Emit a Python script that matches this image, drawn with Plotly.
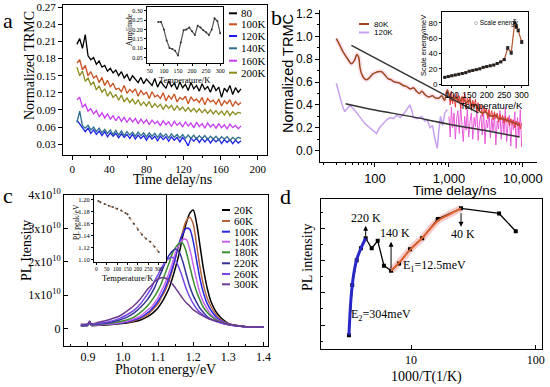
import math
import plotly.graph_objects as go

W, H = 550, 387
SERIF = "Liberation Serif, Times New Roman, serif"
SANS = "Liberation Sans, Arial, sans-serif"


def px(x):
    return x / W


def py(y):
    return 1 - y / H


# ---------------- panel a : TRMC decays ----------------
t_a = [5, 8, 11, 14, 17, 20, 23, 26, 29, 32, 35, 38, 41, 44, 47, 50, 53, 56, 59, 62,
       65, 68, 71, 74, 77, 80, 83, 86, 89, 92, 95, 98, 101, 104, 107, 110, 113, 116, 119, 122,
       125, 128, 131, 134, 137, 140, 143, 146, 149, 152, 155, 158, 161, 164, 167, 170, 173, 176, 179, 182]
a_80 = [0.205, 0.215, 0.198, 0.222, 0.185, 0.178, 0.182, 0.170, 0.176, 0.165,
        0.168, 0.158, 0.163, 0.155, 0.160, 0.150, 0.157, 0.146, 0.152, 0.141,
        0.150, 0.143, 0.138, 0.147, 0.136, 0.144, 0.139, 0.133, 0.145, 0.130,
        0.140, 0.134, 0.128, 0.141, 0.131, 0.137, 0.126, 0.139, 0.129, 0.135,
        0.124, 0.138, 0.127, 0.133, 0.123, 0.136, 0.126, 0.131, 0.121, 0.134,
        0.124, 0.130, 0.112, 0.128, 0.122, 0.133, 0.117, 0.129, 0.121, 0.127]
a_100 = [0.172, 0.178, 0.160, 0.168, 0.150, 0.157, 0.146, 0.150, 0.138, 0.147,
         0.133, 0.142, 0.130, 0.137, 0.126, 0.128, 0.122, 0.133, 0.119, 0.126,
         0.121, 0.127, 0.114, 0.124, 0.117, 0.121, 0.110, 0.122, 0.113, 0.116,
         0.110, 0.120, 0.106, 0.115, 0.109, 0.118, 0.104, 0.112, 0.108, 0.114,
         0.101, 0.113, 0.106, 0.109, 0.103, 0.112, 0.099, 0.110, 0.104, 0.107,
         0.100, 0.109, 0.097, 0.106, 0.101, 0.108, 0.096, 0.105, 0.099, 0.103]
a_120 = [0.072, 0.065, 0.060, 0.052, 0.058, 0.049, 0.055, 0.047, 0.053, 0.045,
         0.052, 0.043, 0.050, 0.044, 0.049, 0.041, 0.048, 0.042, 0.047, 0.040,
         0.047, 0.039, 0.046, 0.040, 0.045, 0.037, 0.045, 0.039, 0.044, 0.036,
         0.044, 0.038, 0.043, 0.035, 0.043, 0.037, 0.042, 0.034, 0.042, 0.036,
         0.027, 0.041, 0.035, 0.041, 0.033, 0.040, 0.034, 0.040, 0.032, 0.039,
         0.034, 0.039, 0.031, 0.038, 0.033, 0.038, 0.031, 0.037, 0.032, 0.036]
a_140 = [0.068, 0.088, 0.062, 0.058, 0.063, 0.055, 0.060, 0.052, 0.058, 0.050,
         0.056, 0.049, 0.055, 0.047, 0.054, 0.046, 0.053, 0.045, 0.052, 0.046,
         0.051, 0.044, 0.051, 0.045, 0.050, 0.043, 0.050, 0.044, 0.049, 0.042,
         0.049, 0.043, 0.048, 0.041, 0.048, 0.042, 0.047, 0.041, 0.047, 0.040,
         0.046, 0.040, 0.046, 0.039, 0.045, 0.040, 0.045, 0.038, 0.044, 0.039,
         0.044, 0.037, 0.043, 0.039, 0.043, 0.036, 0.042, 0.038, 0.042, 0.040]
a_160 = [0.108, 0.112, 0.095, 0.100, 0.088, 0.092, 0.083, 0.089, 0.078, 0.085,
         0.076, 0.083, 0.074, 0.080, 0.071, 0.079, 0.070, 0.077, 0.068, 0.076,
         0.069, 0.075, 0.066, 0.074, 0.067, 0.073, 0.064, 0.072, 0.066, 0.070,
         0.062, 0.071, 0.064, 0.069, 0.061, 0.070, 0.063, 0.068, 0.060, 0.069,
         0.062, 0.067, 0.059, 0.068, 0.061, 0.066, 0.058, 0.067, 0.060, 0.065,
         0.058, 0.066, 0.059, 0.064, 0.057, 0.065, 0.059, 0.063, 0.057, 0.062]
a_200 = [0.165, 0.150, 0.158, 0.140, 0.146, 0.134, 0.139, 0.125, 0.132, 0.121,
         0.127, 0.114, 0.122, 0.112, 0.117, 0.107, 0.116, 0.104, 0.111, 0.103,
         0.109, 0.100, 0.108, 0.098, 0.104, 0.097, 0.105, 0.094, 0.101, 0.095,
         0.100, 0.091, 0.099, 0.093, 0.098, 0.089, 0.097, 0.090, 0.095, 0.088,
         0.094, 0.087, 0.093, 0.086, 0.092, 0.085, 0.091, 0.084, 0.090, 0.083,
         0.089, 0.082, 0.088, 0.081, 0.089, 0.080, 0.087, 0.082, 0.086, 0.084]
a_labels = ["80", "100K", "120K", "140K", "160K", "200K"]
a_colors = ["#000000", "#c8501e", "#1e1ee6", "#2d6e8c", "#c83cf0", "#8c8c1e"]
a_series = [a_80, a_100, a_120, a_140, a_160, a_200]
a_yticks = [0.03, 0.06, 0.09, 0.12, 0.15, 0.18, 0.21, 0.24, 0.27]

# inset a : amplitude vs temperature
ins_a_T = [80, 90, 100, 110, 120, 130, 140, 150, 160, 170, 180, 190, 200, 210, 220, 230,
           240, 250, 260, 270, 280, 290, 300]
ins_a_amp = [0.24, 0.24, 0.20, 0.14, 0.10, 0.095, 0.085, 0.06, 0.13, 0.195, 0.20, 0.21,
             0.19, 0.17, 0.22, 0.21, 0.195, 0.185, 0.17, 0.20, 0.26, 0.245, 0.18]

# ---------------- panel b : log time decays ----------------
b80_x = [30, 33, 36, 40, 44, 48, 53, 57, 60, 63, 67, 72, 77, 85, 93, 100, 110, 123, 137, 150,
         165, 185, 217, 240, 268, 300, 330, 365, 400, 430, 474, 530, 600, 660, 733, 800, 870,
         951, 1030, 1110, 1250, 1400, 1514, 1700, 1900, 2069, 2300, 2550, 2820, 3100, 3450,
         3850, 4300, 4750, 5250, 5800, 6400, 7170, 8000, 9000]
b80_y = [0.98, 0.93, 0.88, 0.83, 0.79, 0.76, 0.79, 0.84, 0.82, 0.72, 0.66, 0.63, 0.62, 0.64,
         0.67, 0.68, 0.69, 0.69, 0.66, 0.63, 0.62, 0.60, 0.59, 0.57, 0.56, 0.54, 0.55, 0.52,
         0.50, 0.52, 0.49, 0.47, 0.48, 0.46, 0.46, 0.48, 0.44, 0.53, 0.46, 0.44, 0.46, 0.43,
         0.47, 0.42, 0.44, 0.39, 0.40, 0.35, 0.33, 0.34, 0.31, 0.30, 0.31, 0.28, 0.28, 0.27,
         0.26, 0.25, 0.24, 0.22]
b120_x = [30, 33, 36, 39, 43, 46, 50, 57, 65, 75, 85, 95, 105, 115, 130, 144, 160, 178, 197,
          220, 250, 280, 297, 315, 330, 370, 428, 470, 510, 554, 600, 647, 696, 730, 770, 820,
          880, 951]
b120_y = [0.59, 0.48, 0.40, 0.34, 0.37, 0.40, 0.37, 0.33, 0.28, 0.23, 0.20, 0.17, 0.15, 0.20,
          0.24, 0.27, 0.29, 0.28, 0.31, 0.29, 0.33, 0.37, 0.40, 0.35, 0.29, 0.28, 0.30, 0.26,
          0.27, 0.20, 0.22, 0.10, 0.02, 0.18, 0.30, 0.22, 0.33, 0.36]
b_raw_x = [1000, 1040, 1080, 1120, 1170, 1220, 1270, 1320, 1380, 1440, 1500, 1560, 1630,
           1700, 1770, 1850, 1930, 2010, 2100, 2190, 2280, 2380, 2480, 2590, 2700, 2820,
           2940, 3070, 3200, 3340, 3480, 3630, 3790, 3950, 4120, 4300, 4490, 4680, 4880,
           5090, 5310, 5540, 5780, 6030, 6290, 6560, 6850, 7140, 7450, 7770, 8110, 8460,
           8830, 9210, 9600]
b120_raw_y = [0.30, 0.12, 0.38, 0.20, 0.33, 0.10, 0.28, 0.35, 0.15, 0.40, 0.22, 0.08, 0.30,
              0.18, 0.36, 0.12, 0.26, 0.33, 0.10, 0.29, 0.21, 0.37, 0.09, 0.25, 0.31, 0.14,
              0.34, 0.06, 0.27, 0.20, 0.36, 0.11, 0.28, 0.17, 0.33, 0.05, 0.26, 0.19, 0.35,
              0.10, 0.30, 0.15, 0.38, 0.08, 0.24, 0.31, 0.04, 0.27, 0.18, 0.34, 0.02, 0.29,
              0.12, 0.36, 0.03]
b80_raw_y = [0.50, 0.40, 0.52, 0.41, 0.49, 0.38, 0.50, 0.42, 0.48, 0.37, 0.47, 0.41, 0.50,
             0.36, 0.46, 0.40, 0.47, 0.35, 0.44, 0.38, 0.45, 0.33, 0.42, 0.36, 0.40, 0.30,
             0.39, 0.33, 0.37, 0.28, 0.36, 0.30, 0.35, 0.27, 0.34, 0.28, 0.33, 0.25, 0.32,
             0.27, 0.31, 0.24, 0.30, 0.25, 0.29, 0.22, 0.28, 0.23, 0.27, 0.20, 0.26, 0.22,
             0.25, 0.19, 0.24]
fit1_x = [48, 2500]
fit1_y = [0.92, 0.33]
fit2_x = [40, 100, 300, 1000, 3000, 9000]
fit2_y = [0.41, 0.355, 0.30, 0.232, 0.178, 0.12]

# inset b : scale energy
ins_b_T = [80, 90, 100, 110, 120, 130, 140, 150, 160, 170, 180, 190, 200, 210, 220, 230,
           240, 250, 260, 270, 280, 285, 290, 300]
ins_b_E = [9, 10, 11, 12, 13, 14, 15, 17, 18, 19, 20, 22, 23, 24, 25, 27, 29, 32, 47, 41,
           80, 75, 70, 55]
ins_b_err = [0.8, 0.8, 0.8, 0.8, 0.8, 0.8, 0.8, 0.8, 0.8, 0.8, 0.8, 0.8, 0.8, 0.8, 0.8,
             0.8, 0.8, 1.0, 2.0, 2.0, 4.0, 2.5, 2.0, 2.0]

# ---------------- panel c : PL spectra ----------------
E_c = [0.88, 0.90, 0.905, 0.91, 0.93, 0.96, 0.99, 1.01, 1.03, 1.05, 1.07, 1.08, 1.09, 1.10,
       1.11, 1.12, 1.13, 1.14, 1.15, 1.16, 1.17, 1.18, 1.19, 1.20, 1.21, 1.22, 1.23, 1.24,
       1.25, 1.27, 1.30, 1.35, 1.40]
pl_20 = [0.08, 0.09, 0.17, 0.09, 0.09, 0.11, 0.14, 0.16, 0.20, 0.25, 0.35, 0.42, 0.51, 0.62,
         0.77, 0.96, 1.17, 1.48, 1.84, 2.25, 2.75, 3.15, 3.45, 3.55, 3.13, 2.43, 1.73, 1.20,
         0.82, 0.42, 0.15, 0.05, 0.04]
pl_60 = [0.08, 0.09, 0.17, 0.09, 0.10, 0.12, 0.15, 0.18, 0.22, 0.30, 0.41, 0.51, 0.62, 0.74,
         0.94, 1.13, 1.39, 1.72, 2.12, 2.54, 2.90, 3.22, 3.33, 3.13, 2.48, 1.79, 1.26, 0.90,
         0.67, 0.35, 0.14, 0.05, 0.04]
pl_100 = [0.08, 0.09, 0.17, 0.09, 0.11, 0.13, 0.15, 0.19, 0.25, 0.32, 0.47, 0.56, 0.68, 0.82,
          1.00, 1.21, 1.48, 1.78, 2.17, 2.55, 2.82, 3.00, 2.97, 2.61, 2.02, 1.45, 1.03, 0.74,
          0.55, 0.29, 0.13, 0.05, 0.04]
pl_140 = [0.09, 0.09, 0.17, 0.09, 0.11, 0.13, 0.17, 0.21, 0.28, 0.37, 0.55, 0.63, 0.77, 0.92,
          1.14, 1.35, 1.64, 1.93, 2.28, 2.51, 2.66, 2.67, 2.38, 1.91, 1.43, 1.03, 0.77, 0.58,
          0.42, 0.25, 0.12, 0.05, 0.04]
pl_180 = [0.09, 0.10, 0.18, 0.10, 0.12, 0.15, 0.20, 0.25, 0.33, 0.48, 0.68, 0.81, 0.96, 1.14,
          1.37, 1.64, 1.92, 2.23, 2.43, 2.55, 2.55, 2.30, 1.87, 1.44, 1.09, 0.83, 0.61, 0.48,
          0.37, 0.23, 0.12, 0.05, 0.04]
pl_220 = [0.10, 0.11, 0.19, 0.11, 0.13, 0.17, 0.25, 0.33, 0.45, 0.63, 0.87, 1.03, 1.22, 1.47,
          1.70, 1.96, 2.17, 2.31, 2.38, 2.29, 2.01, 1.63, 1.26, 0.98, 0.77, 0.59, 0.47, 0.35,
          0.28, 0.20, 0.11, 0.05, 0.04]
pl_260 = [0.11, 0.12, 0.20, 0.12, 0.15, 0.20, 0.30, 0.40, 0.53, 0.74, 1.03, 1.19, 1.42, 1.61,
          1.82, 1.98, 2.09, 2.13, 2.03, 1.80, 1.51, 1.19, 0.94, 0.74, 0.59, 0.47, 0.39, 0.31,
          0.26, 0.19, 0.11, 0.05, 0.04]
pl_300 = [0.12, 0.14, 0.22, 0.14, 0.18, 0.26, 0.37, 0.51, 0.67, 0.89, 1.17, 1.28, 1.40, 1.48,
          1.52, 1.51, 1.45, 1.34, 1.20, 1.05, 0.90, 0.77, 0.67, 0.56, 0.49, 0.42, 0.36, 0.31,
          0.27, 0.21, 0.12, 0.05, 0.04]
c_labels = ["20K", "60K", "100K", "140K", "180K", "220K", "260K", "300K"]
c_colors = ["#000000", "#b4643c", "#2828e6", "#c864f0", "#3c8c32", "#32329b", "#7846e6", "#6e3c8c"]
c_series = [pl_20, pl_60, pl_100, pl_140, pl_180, pl_220, pl_260, pl_300]
c_ytick_vals = [0, 1, 2, 3, 4]
c_ytick_text = ["0", "1x10<sup>10</sup>", "2x10<sup>10</sup>", "3x10<sup>10</sup>", "4x10<sup>10</sup>"]

# inset c : PL peak vs temperature
ins_c_T = [10, 20, 40, 60, 80, 100, 120, 140, 150, 160, 180, 200, 220, 240, 260, 280, 300]
ins_c_peak = [1.198, 1.196, 1.193, 1.190, 1.188, 1.185, 1.182, 1.178, 1.176, 1.170, 1.160,
              1.150, 1.142, 1.135, 1.130, 1.122, 1.113]

# ---------------- panel d : Arrhenius ----------------
d_x = [3.18, 3.38, 3.67, 3.97, 4.33, 4.84, 5.41, 6.07, 6.92, 8.02, 9.82, 12.3, 16.4, 25.2, 50.8, 69.2]
d_y = [0.43, 1.99, 2.76, 3.13, 3.44, 3.13, 3.36, 2.59, 2.43, 2.66, 3.10, 3.44, 4.04, 4.37, 4.21, 3.66]
d_fit2_x = [3.18, 3.30, 3.45, 3.67, 3.97, 4.33]
d_fit2_y = [0.43, 1.55, 2.25, 2.78, 3.13, 3.44]
d_fit1_x = [6.92, 8.02, 9.82, 12.3, 16.4, 20.0, 25.2]
d_fit1_y = [2.43, 2.68, 3.08, 3.45, 3.98, 4.17, 4.37]

fig = go.Figure()

# ---- panel a traces
for vals, col in zip(a_series, a_colors):
    fig.add_trace(go.Scatter(x=t_a, y=vals, mode="lines", line=dict(color=col, width=1.3),
                             xaxis="x", yaxis="y"))
fig.add_trace(go.Scatter(x=ins_a_T, y=ins_a_amp, mode="lines+markers",
                         line=dict(color="#555555", width=1.2),
                         marker=dict(size=2, color="#333333"), xaxis="x2", yaxis="y2"))

# ---- panel b traces
fig.add_trace(go.Scatter(x=b80_x, y=b80_y, mode="lines",
                         line=dict(color="rgba(245,160,205,0.25)", width=5, shape="spline"),
                         xaxis="x3", yaxis="y3"))
fig.add_trace(go.Scatter(x=b_raw_x, y=b120_raw_y, mode="lines", line=dict(color="#e85ad8", width=1),
                         xaxis="x3", yaxis="y3"))
fig.add_trace(go.Scatter(x=b_raw_x, y=b80_raw_y, mode="lines", line=dict(color="#e83c3c", width=1),
                         xaxis="x3", yaxis="y3"))
fig.add_trace(go.Scatter(x=b120_x, y=b120_y, mode="lines", line=dict(color="#c8a0f0", width=1.5),
                         xaxis="x3", yaxis="y3"))
fig.add_trace(go.Scatter(x=b80_x, y=b80_y, mode="lines", line=dict(color="#a0461e", width=1.5, shape="spline"),
                         xaxis="x3", yaxis="y3"))
fig.add_trace(go.Scatter(x=fit1_x, y=fit1_y, mode="lines", line=dict(color="#333333", width=1.5),
                         xaxis="x3", yaxis="y3"))
fig.add_trace(go.Scatter(x=fit2_x, y=fit2_y, mode="lines", line=dict(color="#333333", width=1.5, shape="spline"),
                         xaxis="x3", yaxis="y3"))
fig.add_trace(go.Scatter(x=ins_b_T, y=ins_b_E, mode="lines+markers",
                         line=dict(color="#b0522a", width=1.2),
                         marker=dict(size=3, symbol="square", color="#222222"),
                         error_y=dict(type="data", array=ins_b_err, color="#222222", thickness=0.8, width=1.5),
                         xaxis="x4", yaxis="y4"))

# ---- panel c traces
for vals, col in zip(c_series, c_colors):
    fig.add_trace(go.Scatter(x=E_c, y=vals, mode="lines",
                             line=dict(color=col, width=1.5, shape="spline", smoothing=0.8),
                             xaxis="x5", yaxis="y5"))
fig.add_trace(go.Scatter(x=ins_c_T, y=ins_c_peak, mode="lines+markers",
                         line=dict(color="#c8906a", width=1.5, dash="dot"),
                         marker=dict(size=2, color="#444444"), xaxis="x6", yaxis="y6"))

# ---- panel d traces
fig.add_trace(go.Scatter(x=d_fit1_x, y=d_fit1_y, mode="lines",
                         line=dict(color="rgba(245,170,170,0.6)", width=7, shape="spline"),
                         xaxis="x7", yaxis="y7"))
fig.add_trace(go.Scatter(x=d_x, y=d_y, mode="lines+markers", line=dict(color="#000000", width=1.3),
                         marker=dict(size=4, symbol="square", color="#000000"), xaxis="x7", yaxis="y7"))
fig.add_trace(go.Scatter(x=d_fit2_x, y=d_fit2_y, mode="lines", line=dict(color="#2828c8", width=3, shape="spline"),
                         xaxis="x7", yaxis="y7"))
fig.add_trace(go.Scatter(x=d_fit1_x, y=d_fit1_y, mode="lines", line=dict(color="#e06432", width=2, shape="spline"),
                         xaxis="x7", yaxis="y7"))


def ax(**kw):
    base = dict(showline=True, linecolor="black", linewidth=1, showgrid=False, zeroline=False,
                ticks="outside", ticklen=4, tickcolor="black", tickwidth=1, automargin=False,
                tickangle=0)
    base.update(kw)
    return base


fs = dict(family=SERIF, color="black")
fa = dict(family=SANS, color="black")

fig.update_layout(
    width=W, height=H, margin=dict(l=0, r=0, t=0, b=0, autoexpand=False),
    paper_bgcolor="white", plot_bgcolor="white", showlegend=False, hovermode=False,
    # panel a
    xaxis=ax(domain=[px(63), px(267)], range=[-10, 210], anchor="y", mirror=True,
             tickvals=[0, 40, 80, 120, 160, 200], tickfont=dict(size=11, **fs),
             minor=dict(ticks="outside", ticklen=2, dtick=20, tickcolor="black")),
    yaxis=ax(domain=[py(155), py(5)], range=[0.011, 0.274], anchor="x", mirror=True,
             tickvals=a_yticks, tickformat=".2f", tickfont=dict(size=11, **fs)),
    xaxis2=ax(domain=[px(147), px(223)], range=[40, 310], anchor="y2", mirror=True, ticklen=2,
              tickvals=[50, 100, 150, 200, 250, 300], tickfont=dict(size=6, **fs)),
    yaxis2=ax(domain=[py(63), py(7)], range=[0.02, 0.32], anchor="x2", mirror=True, ticklen=2,
              tickvals=[0.05, 0.10, 0.15, 0.20, 0.25, 0.30], tickformat=".2f", tickfont=dict(size=6, **fs)),
    # panel b
    xaxis3=ax(domain=[px(320), px(537)], type="log", range=[1.257, 4.19], anchor="y3",
              tickvals=[100, 1000, 10000], ticktext=["100", "1,000", "10,000"], tickfont=dict(size=13, **fa),
              minor=dict(ticks="outside", ticklen=2, dtick="D1", tickcolor="black")),
    yaxis3=ax(domain=[py(162), py(10)], range=[-0.099, 1.23], anchor="x3",
              tickvals=[0.0, 0.2, 0.4, 0.6, 0.8, 1.0, 1.2], tickformat=".1f", tickfont=dict(size=12, **fa),
              minor=dict(ticks="outside", ticklen=2, dtick=0.1, tickcolor="black")),
    xaxis4=ax(domain=[px(442), px(528)], range=[72, 318], anchor="y4", mirror=True, ticklen=2,
              tickvals=[100, 150, 200, 250, 300], tickfont=dict(size=8.5, **fa)),
    yaxis4=ax(domain=[py(85), py(12)], range=[-1, 94], anchor="x4", mirror=True, ticklen=2,
              tickvals=[0, 20, 40, 60, 80], tickfont=dict(size=8, **fa)),
    # panel c
    xaxis5=ax(domain=[px(64), px(268)], range=[0.832, 1.413], anchor="y5", mirror=True, ticks="inside",
              tickvals=[0.9, 1.0, 1.1, 1.2, 1.3, 1.4], tickformat=".1f", tickfont=dict(size=12, **fs),
              minor=dict(ticks="inside", ticklen=2, dtick=0.05, tickcolor="black")),
    yaxis5=ax(domain=[py(346), py(195)], range=[-0.53, 4.0], anchor="x5", mirror=True, ticks="inside",
              tickvals=c_ytick_vals, ticktext=c_ytick_text, tickfont=dict(size=12, **fs)),
    xaxis6=ax(domain=[px(94), px(166)], range=[-11, 335], anchor="y6", mirror=True, ticklen=2,
              tickvals=[0, 50, 100, 150, 200, 250, 300], tickfont=dict(size=5.5, **fs)),
    yaxis6=ax(domain=[py(261.7), py(195)], range=[1.097, 1.208], anchor="x6", mirror=True, ticklen=2,
              tickvals=[1.10, 1.12, 1.14, 1.16, 1.18, 1.20], tickformat=".2f", tickfont=dict(size=6.5, **fs)),
    # panel d
    xaxis7=ax(domain=[px(320.7), px(541.7)], type="log", range=[0.276, 2.048], anchor="y7", mirror=True,
              ticks="inside", tickvals=[10, 100], ticktext=["10", "100"], tickfont=dict(size=12, **fs)),
    yaxis7=ax(domain=[py(349), py(199)], range=[0, 4.66], anchor="x7", mirror=True, ticks="inside",
              tick0=0.745, dtick=1, showticklabels=False,
              minor=dict(ticks="inside", ticklen=2, dtick=0.5, tick0=0.245, tickcolor="black")),
)

ann = []


def txt(x, y, s, size, fam, angle=0, xanchor="center", color="black"):
    ann.append(dict(x=px(x), y=py(y), xref="paper", yref="paper", text=s, showarrow=False,
                    textangle=angle, xanchor=xanchor, yanchor="middle",
                    font=dict(size=size, family=fam, color=color)))


# panel letters
txt(8, 21, "a", 22, SERIF)
txt(276, 17, "b", 22, SERIF)
txt(8, 195, "c", 22, SERIF)
txt(285, 196, "d", 22, SERIF)

# axis titles
txt(30, 66, "Normalized TRMC", 14, SERIF, angle=-90)
txt(172, 179.5, "Time delay/ns", 14, SERIF)
txt(129, 30, "Amplitude", 7.5, SERIF, angle=-90)
txt(185, 79.5, "Temperature/K", 8.5, SERIF)
txt(288, 74, "Normalized TRMC", 14.5, SANS, angle=-90)
txt(455, 190, "Time delay/ns", 13.5, SANS)
txt(491, 105, "Temperature/K", 9.5, SANS)
txt(424, 46, "Scale energy/meV", 7.5, SANS, angle=-90)
txt(496, 23, "○ Scale energy", 6.5, SANS)
txt(26, 251, "PL Itensity", 14, SERIF, angle=-90)
txt(165, 369, "Photon energy/eV", 14, SERIF)
txt(76, 222, "PL peak/eV", 7.5, SERIF, angle=-90)
txt(128, 278, "Temperature/K", 8.5, SERIF)
txt(307, 257, "PL intensity", 14, SERIF, angle=-90)
txt(426, 377, "1000/T(1/K)", 14, SERIF)

# custom legends
shapes = []
a_leg_y = [13.3, 24.3, 36, 48.3, 60.7, 72.7]
for lab, col, yy in zip(a_labels, a_colors, a_leg_y):
    shapes.append(dict(type="line", xref="paper", yref="paper", x0=px(229), x1=px(237), y0=py(yy), y1=py(yy),
                       line=dict(color=col, width=2)))
    txt(239, yy, lab, 11, SERIF, xanchor="left")
b_leg = [("80K", "#a0461e", 24), ("120K", "#c8a0f0", 32.5)]
for lab, col, yy in b_leg:
    shapes.append(dict(type="line", xref="paper", yref="paper", x0=px(359), x1=px(369), y0=py(yy), y1=py(yy),
                       line=dict(color=col, width=2)))
    txt(372, yy, lab, 8, SANS, xanchor="left")
c_leg_y = [210, 221, 231.7, 241.7, 252.3, 263.3, 274, 284.3]
for lab, col, yy in zip(c_labels, c_colors, c_leg_y):
    shapes.append(dict(type="line", xref="paper", yref="paper", x0=px(222), x1=px(230), y0=py(yy), y1=py(yy),
                       line=dict(color=col, width=2)))
    txt(232, yy, lab, 11, SERIF, xanchor="left")

# panel d annotations with arrows
arrow_specs = [
    (4.33, 3.83, 12),
    (6.92, 3.33, 28),
    (25.2, 3.80, -15),
]
for xv, yv, ay in arrow_specs:
    ann.append(dict(x=math.log10(xv), y=yv, xref="x7", yref="y7", text="", showarrow=True,
                    ax=0, ay=ay, arrowhead=2, arrowsize=1, arrowwidth=1, arrowcolor="black"))
d_texts = [
    (4.33, 4.07, "220 K"),
    (7.45, 3.61, "140 K"),
    (26.2, 3.56, "40 K"),
    (15.4, 2.58, "E<sub>1</sub>=12.5meV"),
    (5.74, 1.06, "E<sub>2</sub>=304meV"),
]
for xv, yv, s in d_texts:
    ann.append(dict(x=math.log10(xv), y=yv, xref="x7", yref="y7", text=s, showarrow=False,
                    xanchor="center", yanchor="middle", font=dict(size=12, family=SERIF, color="black")))

fig.update_layout(annotations=ann, shapes=shapes)
fig.write_html("out.html", config={"displayModeBar": False, "staticPlot": True},
               post_script="document.body.style.margin='0px';document.body.style.padding='0px';")
